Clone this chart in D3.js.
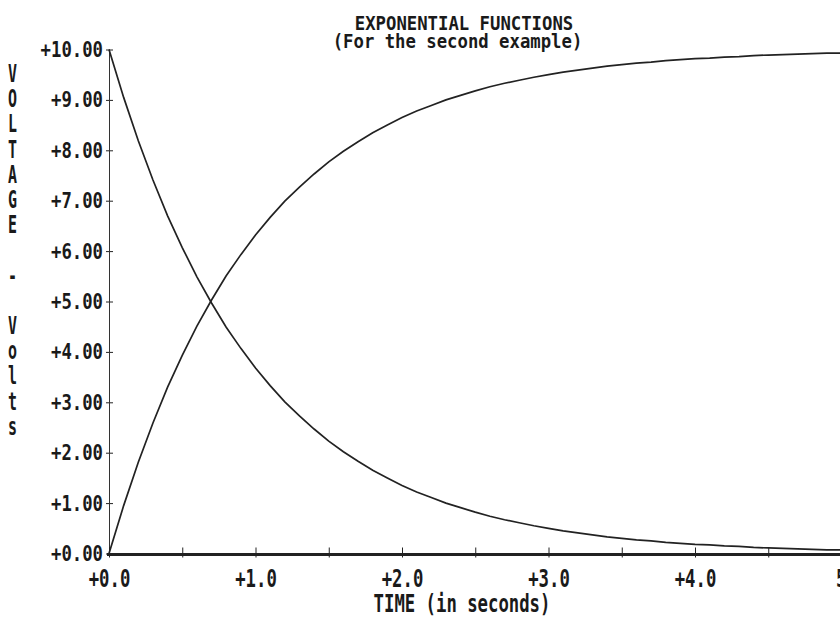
<!DOCTYPE html>
<html>
<head>
<meta charset="utf-8">
<script src="https://cdn.jsdelivr.net/npm/d3@7"></script>
<style>
body { margin: 0; background: #fff; }
text { font-family: "DejaVu Sans Mono", monospace; font-weight: bold; fill: #1a1a1a; }
</style>
</head>
<body>
<script>
// values, every 0.1 s
var time = [0.0,0.1,0.2,0.3,0.4,0.5,0.6,0.7,0.8,0.9,1.0,1.1,1.2,1.3,1.4,1.5,1.6,1.7,1.8,1.9,
            2.0,2.1,2.2,2.3,2.4,2.5,2.6,2.7,2.8,2.9,3.0,3.1,3.2,3.3,3.4,3.5,3.6,3.7,3.8,3.9,
            4.0,4.1,4.2,4.3,4.4,4.5,4.6,4.7,4.8,4.9,5.0];
var falling = [10.00,9.05,8.19,7.41,6.70,6.07,5.49,4.97,4.49,4.07,3.68,3.33,3.01,2.73,2.47,2.23,2.02,1.83,1.65,1.50,
               1.35,1.22,1.11,1.00,0.91,0.82,0.74,0.67,0.61,0.55,0.50,0.45,0.41,0.37,0.33,0.30,0.27,0.25,0.22,0.20,
               0.18,0.17,0.15,0.14,0.12,0.11,0.10,0.09,0.08,0.07,0.07];
var rising = [0.00,0.95,1.81,2.59,3.30,3.93,4.51,5.03,5.51,5.93,6.32,6.67,6.99,7.27,7.53,7.77,7.98,8.17,8.35,8.50,
              8.65,8.78,8.89,9.00,9.09,9.18,9.26,9.33,9.39,9.45,9.50,9.55,9.59,9.63,9.67,9.70,9.73,9.75,9.78,9.80,
              9.82,9.83,9.85,9.86,9.88,9.89,9.90,9.91,9.92,9.93,9.93];
var yTicks = [0,1,2,3,4,5,6,7,8,9,10];
var xTicks = [0,0.5,1,1.5,2,2.5,3,3.5,4,4.5,5];
var yTitle = "VOLTAGE - Volts";

var charW = 10.4;

var svg = d3.select("body").append("svg")
    .attr("width", 840)
    .attr("height", 617);

var x = d3.scaleLinear().domain([0, 5]).range([109, 841.5]);
var y = d3.scaleLinear().domain([0, 10]).range([553.5, 49.5]);

// squash the mono font into the narrow printer cells
function squeeze(sel) {
  sel.each(function() {
    var t = d3.select(this).text();
    if (t.length) d3.select(this).attr("textLength", t.length * charW).attr("lengthAdjust", "spacingAndGlyphs");
  });
}

// y axis
var gy = svg.append("g")
    .attr("transform", "translate(109,0)")
    .call(d3.axisLeft(y).tickValues(yTicks).tickSize(3).tickPadding(4)
      .tickFormat(function(d) { return "+" + d.toFixed(2); }));
gy.select(".domain").remove();
gy.selectAll(".tick line").attr("x1", 4).attr("stroke", "#222");
gy.selectAll(".tick text")
    .attr("font-size", 20.6)
    .attr("dy", "0.34em")
    .attr("x", -6)
    .style("font-family", "DejaVu Sans Mono")
    .call(squeeze);
svg.append("line")
    .attr("x1", 109.5).attr("x2", 109.5)
    .attr("y1", y(10)).attr("y2", y(0))
    .attr("stroke", "#333").attr("stroke-width", 1);

// x axis
var gx = svg.append("g")
    .attr("transform", "translate(0,554.5)")
    .call(d3.axisBottom(x).tickValues(xTicks).tickSize(3)
      .tickFormat(function(d) {
        if (d % 1 !== 0) return "";
        return d === 5 ? "5" : "+" + d.toFixed(1);
      }));
gx.select(".domain").remove();
gx.selectAll(".tick line").attr("y1", -7).attr("stroke", "#222");
gx.selectAll(".tick text")
    .attr("font-size", 25.5)
    .attr("y", 32).attr("dy", 0)
    .style("font-family", "DejaVu Sans Mono")
    .call(squeeze);
gx.selectAll(".tick text").filter(function(d) { return d === 5; })
    .attr("text-anchor", "start").attr("x", -6);
svg.append("line")
    .attr("x1", 107).attr("x2", 840)
    .attr("y1", 554.5).attr("y2", 554.5)
    .attr("stroke", "#222").attr("stroke-width", 3);

// curves
var line = d3.line()
    .x(function(d, i) { return x(time[i]); })
    .y(function(d) { return y(d); });

[falling, rising].forEach(function(s) {
  svg.append("path")
    .datum(s)
    .attr("d", line)
    .attr("fill", "none")
    .attr("stroke", "#222")
    .attr("stroke-width", 1.7);
});

// titles
svg.append("text").attr("x", 464).attr("y", 30)
    .attr("text-anchor", "middle").attr("font-size", 19.5)
    .text("EXPONENTIAL FUNCTIONS").call(squeeze);
svg.append("text").attr("x", 457.5).attr("y", 48)
    .attr("text-anchor", "middle").attr("font-size", 19)
    .text("(For the second example)").call(squeeze);
svg.append("text").attr("x", 462).attr("y", 612)
    .attr("text-anchor", "middle").attr("font-size", 25.5)
    .text("TIME (in seconds)").call(squeeze);

// stacked y title
svg.append("g").selectAll("text")
  .data(yTitle.split(""))
  .join("text")
    .attr("x", 12.5)
    .attr("y", function(d, i) { return 82 + 25.2 * i; })
    .attr("text-anchor", "middle")
    .attr("font-size", 24.7)
    .attr("textLength", 9)
    .attr("lengthAdjust", "spacingAndGlyphs")
    .text(function(d) { return d; });
</script>
</body>
</html>
